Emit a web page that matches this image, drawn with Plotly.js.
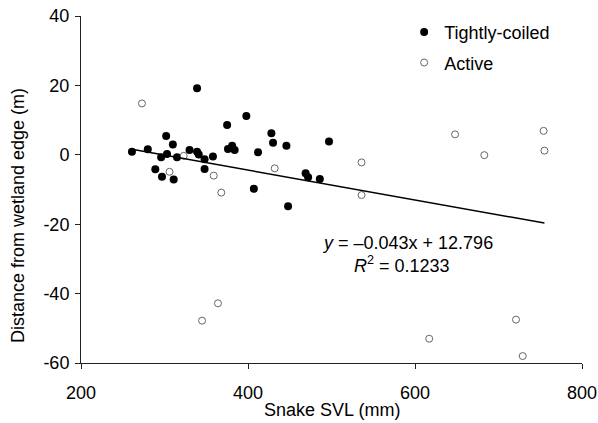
<!DOCTYPE html>
<html>
<head>
<meta charset="utf-8">
<script src="https://cdn.plot.ly/plotly-3.0.1.min.js"></script>
<style>html,body{margin:0;padding:0;background:#fff;}#chart{width:598px;height:423px;}</style>
</head>
<body>
<div id="chart"></div>
<script>
// Tightly-coiled snakes (filled markers)
const coiledSVL  = [261, 280, 302, 310, 296, 303, 315, 289, 297, 311, 330, 339, 341, 348, 358, 348, 375, 398, 376, 381, 384, 412, 428, 430, 446, 407, 469, 472, 486, 497, 448, 339];
const coiledDist = [0.9, 1.6, 5.4, 3.0, -0.7, 0.2, -0.7, -4.2, -6.3, -7.1, 1.4, 0.9, 0.1, -1.3, -0.5, -4.1, 8.6, 11.2, 1.7, 2.6, 1.4, 0.7, 6.2, 3.5, 2.6, -9.8, -5.3, -6.5, -7.0, 3.8, -14.8, 19.2];
// Active snakes (open markers)
const activeSVL  = [273, 306, 323, 359, 368, 432, 536, 536, 648, 683, 754, 755, 364, 345, 617, 721, 729];
const activeDist = [14.8, -4.9, -0.3, -6.0, -10.9, -3.9, -2.2, -11.6, 5.9, -0.1, 6.9, 1.2, -42.8, -47.8, -53, -47.5, -58];
// Linear fit reported on the chart
const slope = -0.043;
const intercept = 12.796;
const xTickVals = [200, 400, 600, 800];
const xTickText = ['200', '400', '600', '800'];
const yTickVals = [-60, -40, -20, 0, 20, 40];
const yTickText = ['-60', '-40', '-20', '0', '20', '40'];

const allX = coiledSVL.concat(activeSVL);
const fitX = [Math.min(...allX), Math.max(...allX)];
const fitY = fitX.map(x => slope * x + intercept);

const FONT = 'Liberation Sans, Arial, sans-serif';

const traces = [
  {
    x: coiledSVL, y: coiledDist, type: 'scatter', mode: 'markers', name: 'Tightly-coiled',
    legendgroup: 'a',
    marker: {symbol: 'circle', size: 8, color: '#000'}
  },
  {
    x: activeSVL, y: activeDist, type: 'scatter', mode: 'markers', name: 'Active',
    legendgroup: 'b',
    marker: {symbol: 'circle-open', size: 7, color: '#666', line: {width: 1, color: '#666'}}
  },
  {
    x: fitX, y: fitY, type: 'scatter', mode: 'lines', showlegend: false,
    line: {color: '#000', width: 1.5}, hoverinfo: 'skip'
  }
];

const layout = {
  width: 598, height: 423,
  margin: {l: 81, r: 16, t: 16, b: 60},
  paper_bgcolor: '#fff', plot_bgcolor: '#fff',
  font: {family: FONT, size: 18, color: '#000'},
  showlegend: true,
  legend: {
    x: 0.645, xanchor: 'left', y: 1.006, yanchor: 'top',
    bgcolor: 'rgba(0,0,0,0)', font: {family: FONT, size: 18, color: '#000'},
    tracegroupgap: 4, traceorder: 'grouped'
  },
  xaxis: {
    range: [200, 800], tickvals: xTickVals, ticktext: xTickText,
    showgrid: false, zeroline: false, showline: true, linecolor: '#222', linewidth: 1,
    ticks: 'outside', ticklen: 5, tickcolor: '#222', tickwidth: 1,
    tickfont: {family: FONT, size: 18, color: '#000'}, ticklabelstandoff: 8
  },
  yaxis: {
    range: [-60, 40], tickvals: yTickVals, ticktext: yTickText,
    showgrid: false, zeroline: false, showline: true, linecolor: '#222', linewidth: 1,
    ticks: 'outside', ticklen: 5, tickcolor: '#222', tickwidth: 1,
    tickfont: {family: FONT, size: 18, color: '#000'}, ticklabelstandoff: 2
  },
  annotations: [
    {xref: 'paper', yref: 'paper', x: -0.1257, y: 0.4236, xanchor: 'center', yanchor: 'middle',
     textangle: -90, showarrow: false, text: 'Distance from wetland edge (m)',
     font: {family: FONT, size: 18, color: '#000'}},
    {xref: 'paper', yref: 'paper', x: 0.5, y: -0.135, xanchor: 'center', yanchor: 'middle',
     showarrow: false, text: 'Snake SVL (mm)',
     font: {family: FONT, size: 18, color: '#000'}},
    {xref: 'x', yref: 'y', x: 591, y: -25.4, xanchor: 'center', yanchor: 'middle', showarrow: false,
     text: '<i>y</i> = \u20130.043x + 12.796', font: {family: FONT, size: 18, color: '#000'}},
    {xref: 'x', yref: 'y', x: 585, y: -31.6, xanchor: 'center', yanchor: 'middle', showarrow: false,
     text: '<i>R</i><sup>2</sup> = 0.1233', font: {family: FONT, size: 18, color: '#000'}}
  ]
};

Plotly.newPlot('chart', traces, layout, {displayModeBar: false, staticPlot: true});
</script>
</body>
</html>
